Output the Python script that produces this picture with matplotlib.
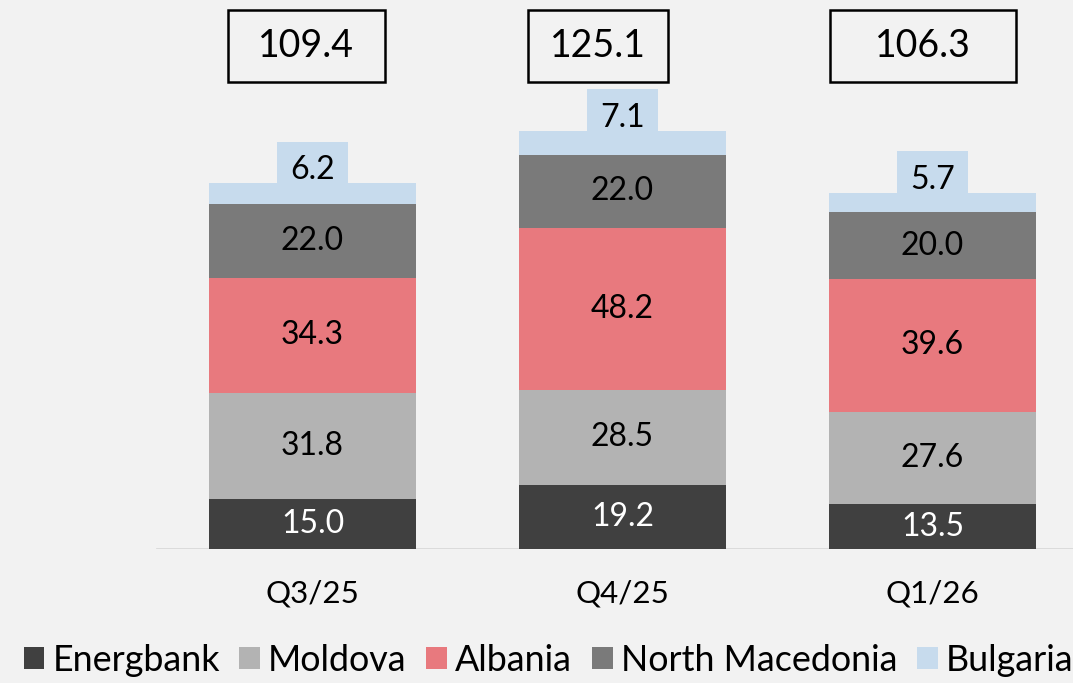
import matplotlib.pyplot as plt
from matplotlib.patches import Rectangle
from matplotlib.transforms import blended_transform_factory
import numpy as np

plt.rcParams['font.family'] = ['Lato', 'DejaVu Sans']

quarters = ["Q3/25", "Q4/25", "Q1/26"]
series = ["Energbank", "Moldova", "Albania", "North Macedonia", "Bulgaria"]
energbank = [15.0, 19.2, 13.5]
moldova = [31.8, 28.5, 27.6]
albania = [34.3, 48.2, 39.6]
north_macedonia = [22.0, 22.0, 20.0]
bulgaria = [6.2, 7.1, 5.7]
totals = [109.4, 125.1, 106.3]

colors = ["#404040", "#b3b3b3", "#e8797e", "#7a7a7a", "#c7dbed"]
label_colors = ["white", "black", "black", "black", "black"]
bg = "#f2f2f2"

# total boxes are not quite centred over the bars in the original
box_shift = [-0.02, -0.08, -0.03]
box_width = [0.506, 0.452, 0.6]

fig = plt.figure(figsize=(10.73, 6.83), dpi=100, facecolor=bg)
ax = fig.add_axes([0, 0.196, 1, 0.804], facecolor=bg)

x = np.arange(len(quarters))
data = [energbank, moldova, albania, north_macedonia, bulgaria]
bottom = np.zeros(len(quarters))
for name, vals, c, lc in zip(series, data, colors, label_colors):
    vals = np.array(vals)
    ax.bar(x, vals, 0.668, bottom=bottom, color=c, label=name, zorder=2)
    for xi, b, v in zip(x, bottom, vals):
        if name == "Bulgaria":
            ax.annotate(f"{v:.1f}", (xi, b + v), xytext=(0, 9.5), textcoords="offset points",
                        ha="center", va="center", fontsize=23, color=lc, zorder=4,
                        bbox=dict(boxstyle="square,pad=0.42", fc=c, ec="none"))
        else:
            ax.text(xi, b + v / 2, f"{v:.1f}", ha="center", va="center",
                    fontsize=23, color=lc, zorder=3)
    bottom += vals

trans = blended_transform_factory(ax.transData, ax.transAxes)
for xi, t, sh, w in zip(x, totals, box_shift, box_width):
    cx = xi + sh
    ax.add_patch(Rectangle((cx - w / 2, 0.851), w, 0.131, transform=trans,
                           fc="none", ec="black", lw=1.8, clip_on=False))
    ax.text(cx, 0.9165, f"{t:.1f}", transform=trans, ha="center", va="center", fontsize=27)

ax.set_xlim(-1.008, 2.453)
ax.set_ylim(0, 164.1)
ax.axhline(0, xmin=0.146, xmax=1, color="#d9d9d9", lw=2, zorder=1)
for s in ax.spines.values():
    s.set_visible(False)
ax.set_yticks([])
ax.set_xticks(x)
ax.set_xticklabels(quarters, fontsize=22.5)
ax.tick_params(axis="x", length=0, pad=22)

fig.legend(loc="center left", bbox_to_anchor=(0.022, 0.033), ncol=5, frameon=False,
           fontsize=25.8, handlelength=0.58, handleheight=0.58, handletextpad=0.22,
           columnspacing=0.55, borderaxespad=0, borderpad=0)

fig.savefig("out.png", dpi=100, facecolor=bg)
